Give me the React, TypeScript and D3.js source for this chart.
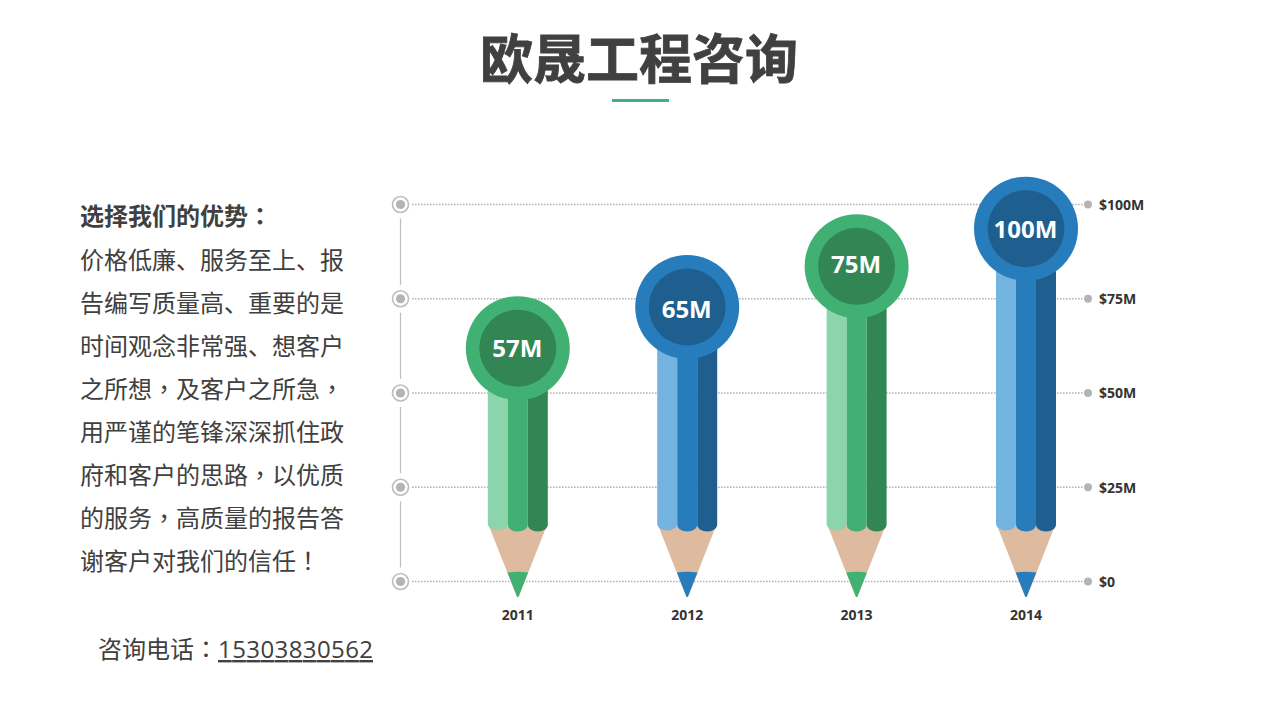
import React, { useEffect, useRef } from 'react';
import * as d3 from 'd3';

const years = ['2011', '2012', '2013', '2014'];
const values = [57, 65, 75, 100];
// the badges do not sit on their value in the source, so this is where they sit on the axis
const badgeLevels = [61.9, 72.8, 83.6, 93.6];
// same for the badge labels, which are a little off centre in the source
const labelLevels = [61.9, 72.2, 84, 93.4];
const palettes = ['green', 'blue', 'green', 'blue'];
const tickValues = [0, 25, 50, 75, 100];
const tickLabels = ['$0', '$25M', '$50M', '$75M', '$100M'];

const titleText = '欧晟工程咨询';
const headingText = '选择我们的优势：';
const bodyLines = [
  '价格低廉、服务至上、报',
  '告编写质量高、重要的是',
  '时间观念非常强、想客户',
  '之所想，及客户之所急，',
  '用严谨的笔锋深深抓住政',
  '府和客户的思路，以优质',
  '的服务，高质量的报告答',
  '谢客户对我们的信任！',
];
const phoneLabel = '咨询电话：';
const phoneNumber = '15303830562';

const colors: any = {
  green: { light: '#8cd5ac', mid: '#41b173', dark: '#318654' },
  blue: { light: '#73b3df', mid: '#277dbb', dark: '#1f5f8f' },
};
const wood = '#deba9f';
const ink = '#404040';
const cjk = '"Noto Sans CJK SC", sans-serif';
const cjkCentred = '"Noto Sans CJK TC", sans-serif';
const latin = '"Open Sans", sans-serif';

// the source font centres these marks, the SC cut pushes them to the corner
const addChinese = (text: any, str: string) => {
  str.split(/([，：！])/).filter(Boolean).forEach(part => {
    text.append('tspan')
      .attr('font-family', /^[，：！]$/.test(part) ? cjkCentred : cjk)
      .text(part);
  });
};

const App: React.FC = () => {
  const ref = useRef<SVGSVGElement>(null);

  useEffect(() => {
    const svg = d3.select(ref.current);
    svg.selectAll('*').remove();

    const y = d3.scaleLinear().domain([0, 100]).range([581.5, 204.5]);
    const x = d3.scalePoint().domain(years).range([517.8, 1026]);

    svg.append('text')
      .attr('x', 639).attr('y', 79)
      .attr('text-anchor', 'middle')
      .attr('font-family', cjk).attr('font-size', 53).attr('font-weight', 700)
      .attr('fill', ink).attr('stroke', ink).attr('stroke-width', 0.8)
      .text(titleText);
    svg.append('rect')
      .attr('x', 612).attr('y', 99).attr('width', 57).attr('height', 3)
      .attr('fill', '#3fb27f');

    const heading = svg.append('text')
      .attr('x', 80).attr('y', 225)
      .attr('font-size', 24).attr('font-weight', 700)
      .attr('fill', ink);
    addChinese(heading, headingText);

    bodyLines.forEach((line, i) => {
      const t = svg.append('text')
        .attr('x', 80)
        .attr('y', 268.5 + i * 43)
        .attr('font-size', 24)
        .attr('fill', ink);
      addChinese(t, line);
    });

    const phone = svg.append('text')
      .attr('x', 98).attr('y', 658)
      .attr('font-size', 24)
      .attr('fill', ink);
    addChinese(phone, phoneLabel);
    phone.append('tspan')
      .attr('font-family', latin)
      .attr('text-decoration', 'underline')
      .attr('textLength', 155)
      .text(phoneNumber);

    // grid and right-hand labels
    const axis = svg.append('g')
      .attr('transform', 'translate(1088,0.5)')
      .call(
        d3.axisRight(y)
          .tickValues(tickValues)
          .tickSize(0)
          .tickPadding(11)
          .tickFormat((_, i) => tickLabels[i])
      );
    axis.select('.domain').remove();
    axis.selectAll('text')
      .attr('font-family', latin).attr('font-size', 14).attr('font-weight', 700)
      .attr('fill', '#333333');

    const rows = svg.append('g').selectAll('g')
      .data(tickValues)
      .enter()
      .append('g')
      .attr('transform', d => `translate(0,${y(d)})`);
    rows.append('line')
      .attr('x1', 412).attr('x2', 1086)
      .attr('stroke', '#b4b4b4').attr('stroke-width', 1.7)
      .attr('stroke-dasharray', '1.6 1.4');
    rows.append('circle')
      .attr('cx', 1088).attr('r', 4)
      .attr('fill', '#b4b4b4');
    rows.append('circle')
      .attr('cx', 400.5).attr('r', 8)
      .attr('fill', '#ffffff').attr('stroke', '#bdbdbd').attr('stroke-width', 1.6);
    rows.append('circle')
      .attr('cx', 400.5).attr('r', 4.6)
      .attr('fill', '#b4b4b4');

    svg.append('g').selectAll('line')
      .data(d3.pairs(tickValues))
      .enter()
      .append('line')
      .attr('x1', 400.5).attr('x2', 400.5)
      .attr('y1', d => y(d[0]) - 14)
      .attr('y2', d => y(d[1]) + 14)
      .attr('stroke', '#bdbdbd').attr('stroke-width', 1.2);

    // pencils
    const bodyBottom = y(0) - 50;
    const stripeW = 20;
    const stripe = (left: number, top: number, inset: number) => {
      const b = bodyBottom - inset;
      const p = d3.path();
      p.moveTo(left, top);
      p.lineTo(left + stripeW, top);
      p.lineTo(left + stripeW, b - 7);
      p.bezierCurveTo(left + stripeW, b - 3, left + stripeW - 4.5, b, left + stripeW / 2, b);
      p.bezierCurveTo(left + 4.5, b, left, b - 3, left, b - 7);
      p.closePath();
      return p.toString();
    };

    years.forEach((year, i) => {
      const cx = x(year) as number;
      const cy = y(badgeLevels[i]);
      const c = colors[palettes[i]];
      const g = svg.append('g');

      const wp = d3.path();
      wp.moveTo(cx - 29, bodyBottom - 6);
      wp.lineTo(cx + 29, bodyBottom - 6);
      wp.lineTo(cx + 1, y(0) + 15);
      wp.lineTo(cx - 1, y(0) + 15);
      wp.closePath();

      g.append('path').attr('d', wp.toString()).attr('fill', wood);
      g.append('path').attr('d', stripe(cx - 30, cy, 1)).attr('fill', c.light);
      g.append('path').attr('d', stripe(cx - 10, cy, 0)).attr('fill', c.mid);
      g.append('path').attr('d', stripe(cx + 10, cy, 0)).attr('fill', c.dark);

      const tp = d3.path();
      tp.moveTo(cx - 10.3, y(0) - 9);
      tp.quadraticCurveTo(cx, y(0) - 10.5, cx + 10.3, y(0) - 9);
      tp.lineTo(cx + 0.6, y(0) + 15.5);
      tp.lineTo(cx - 0.6, y(0) + 15.5);
      tp.closePath();
      g.append('path').attr('d', tp.toString()).attr('fill', c.mid);

      g.append('circle').attr('cx', cx).attr('cy', cy).attr('r', 52).attr('fill', c.mid);
      g.append('circle').attr('cx', cx).attr('cy', cy).attr('r', 38.5).attr('fill', c.dark);
      g.append('text')
        .attr('x', cx - 0.5).attr('y', y(labelLevels[i]) + 8.5)
        .attr('text-anchor', 'middle')
        .attr('font-family', latin).attr('font-size', 24).attr('font-weight', 700)
        .attr('fill', '#ffffff')
        .text(`${values[i]}M`);

      svg.append('text')
        .attr('x', cx).attr('y', y(0) + 38)
        .attr('text-anchor', 'middle')
        .attr('font-family', latin).attr('font-size', 14).attr('font-weight', 700)
        .attr('fill', '#333333')
        .text(year);
    });
  }, []);

  return (
    <svg
      ref={ref}
      width={1280}
      height={720}
      style={{ position: 'fixed', left: 0, top: 0, background: '#ffffff' }}
    />
  );
};

export default App;
